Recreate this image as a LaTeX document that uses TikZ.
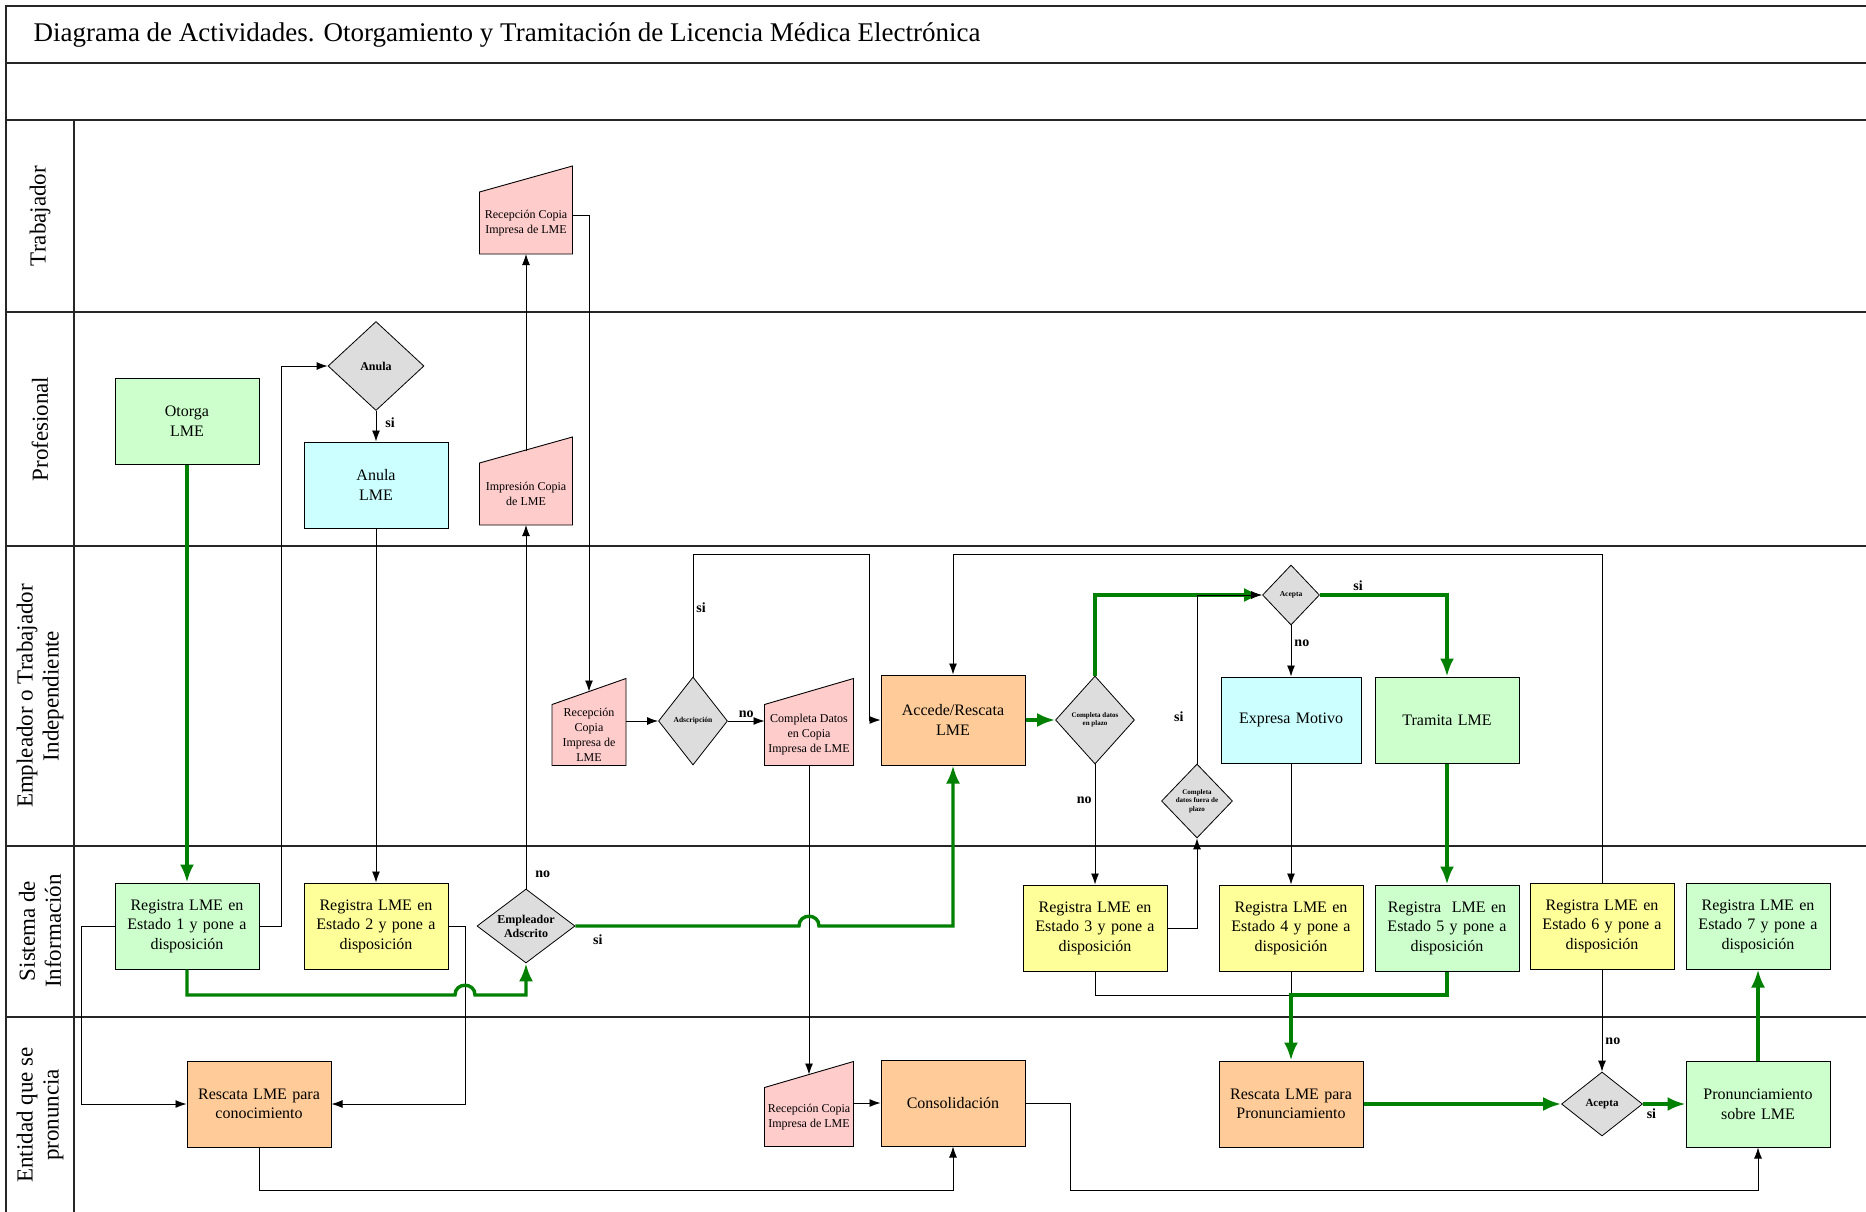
\documentclass[tikz,border=0pt]{standalone}
\usepackage{fontspec}
\setmainfont{Liberation Serif}
\usepackage{xcolor}
\usepackage{tikz}
\usetikzlibrary{shapes.geometric, arrows.meta, positioning, calc}

\definecolor{verde}{HTML}{CCFFCC}
\definecolor{amarillo}{HTML}{FFFF99}
\definecolor{celeste}{HTML}{CCFFFF}
\definecolor{naranjo}{HTML}{FFCC99}
\definecolor{rosado}{HTML}{FFCCCC}
\definecolor{gris}{HTML}{DDDDDD}
\definecolor{flujo}{HTML}{008000}

\tikzstyle{act} = [draw, rectangle, line width=1pt, minimum width=144pt, minimum height=86pt, text width=132pt, align=center, font=\fontsize{16}{19.6}\selectfont]
\tikzstyle{actV} = [act, fill=verde]
\tikzstyle{actA} = [act, fill=amarillo]
\tikzstyle{actC} = [act, fill=celeste]
\tikzstyle{actN} = [act, fill=naranjo]
\tikzstyle{decision} = [draw, diamond, fill=gris, line width=0.8pt, inner sep=0pt, align=center, font=\bfseries\fontsize{12}{14}\selectfont]
\tikzstyle{doc} = [rectangle, inner xsep=2pt, inner ysep=1pt, outer sep=0pt, minimum height=62pt, align=center, font=\fontsize{12}{15}\selectfont,
  append after command={\pgfextra{
    \filldraw[fill=rosado, line width=0.9pt] (\tikzlastnode.south west) -- (\tikzlastnode.south east) -- ([yshift=26pt]\tikzlastnode.north east) -- (\tikzlastnode.north west) -- cycle;}}]
\tikzstyle{arrow} = [draw, -{Latex[length=11pt,width=8pt]}, line width=0.9pt]
\tikzstyle{garrow} = [draw=flujo, -{Latex[length=18pt,width=14pt]}, line width=3.4pt]
\tikzstyle{pista} = [draw=black!85, line width=1.6pt]
\tikzstyle{carril} = [rotate=90, align=center, font=\fontsize{23}{26}\selectfont]
\tikzstyle{etq} = [font=\bfseries\fontsize{14}{16}\selectfont, inner sep=3pt]

\begin{document}
\begin{tikzpicture}[x=1pt, y=-1pt]
    \useasboundingbox (0,0) rectangle (1866,1212);
    \fill [white] (0,0) rectangle (1866,1212);

    % carriles
    \draw [pista] (6,1212) -- (6,6) -- (1866,6)
        (6,63) -- (1866,63) (6,120) -- (1866,120)
        (6,312) -- (1866,312) (6,546) -- (1866,546)
        (6,846) -- (1866,846) (6,1017) -- (1866,1017)
        (74,120) -- (74,1212);

    \node (titulo) [anchor=west, font=\fontsize{27}{32}\selectfont] at (30,35) {Diagrama de Actividades. Otorgamiento y Tramitación de Licencia Médica Electrónica};
    \node (cTrab) [carril] at (40,216) {Trabajador};
    \node (cProf) [carril] at (40,429) {Profesional};
    \node (cEmpl) [carril] at (40,696) {Empleador o Trabajador\\Independiente};
    \node (cSist) [carril] at (40,931) {Sistema de\\Información};
    \node (cEnt) [carril] at (40,1115) {Entidad que se\\pronuncia};

    % Profesional y Trabajador
    \node (otorga) [actV] at (187,421) {Otorga\\LME};
    \node (anula) [decision, minimum width=96pt, minimum height=89pt] at (376,366) {Anula};
    \node (anulaLME) [actC] at (376,485) {Anula\\LME};
    \node (recT) [doc, minimum width=93pt] at (526,223) {Recepción Copia\\Impresa de LME};
    \node (impr) [doc, minimum width=93pt] at (526,494) {Impresión Copia\\de LME};

    % Empleador
    \node (recE) [doc, minimum width=74pt, minimum height=61pt] at (589,735) {Recepción\\Copia\\Impresa de\\LME};
    \node (adscr) [decision, minimum width=69pt, minimum height=88pt, aspect=0.78, font=\bfseries\fontsize{7.5}{9}\selectfont] at (693,721) {Adscripción};
    \node (compD) [doc, minimum width=89pt, minimum height=61pt] at (809,735) {Completa Datos\\en Copia\\Impresa de LME};
    \node (accede) [actN, minimum height=90pt] at (953,720) {Accede/Rescata\\LME};
    \node (plazo) [decision, minimum width=79pt, minimum height=88pt, aspect=0.9, font=\bfseries\fontsize{7}{8.5}\selectfont] at (1095,720) {Completa datos\\en plazo};
    \node (aceptaT) [decision, minimum width=57pt, minimum height=60pt, aspect=0.95, font=\bfseries\fontsize{7.5}{9}\selectfont] at (1291,595) {Acepta};
    \node (expresa) [actC, minimum width=140pt] at (1291,720) {Expresa Motivo};
    \node (tramita) [actV] at (1447,720) {Tramita LME};
    \node (fuera) [decision, minimum width=71pt, minimum height=74pt, font=\bfseries\fontsize{7}{8.5}\selectfont] at (1197,801) {Completa\\datos fuera de\\plazo};

    % Sistema de Informacion
    \node (reg1) [actV] at (187,926) {Registra LME en\\Estado 1 y pone a\\disposición};
    \node (reg2) [actA] at (376,926) {Registra LME en\\Estado 2 y pone a\\disposición};
    \node (adscrito) [decision, minimum width=98pt, minimum height=74pt, aspect=1.32] at (526,926) {Empleador\\Adscrito};
    \node (reg3) [actA] at (1095,928) {Registra LME en\\Estado 3 y pone a\\disposición};
    \node (reg4) [actA] at (1291,928) {Registra LME en\\Estado 4 y pone a\\disposición};
    \node (reg5) [actV] at (1447,928) {Registra\ \ LME en\\Estado 5 y pone a\\disposición};
    \node (reg6) [actA] at (1602,926) {Registra LME en\\Estado 6 y pone a\\disposición};
    \node (reg7) [actV] at (1758,926) {Registra LME en\\Estado 7 y pone a\\disposición};
    \coordinate (union) at (1291,995);

    % Entidad que se pronuncia
    \node (rescCon) [actN] at (259,1104) {Rescata LME para\\conocimiento};
    \node (recEnt) [doc, minimum width=89pt, minimum height=59pt] at (809,1117) {Recepción Copia\\Impresa de LME};
    \node (consol) [actN] at (953,1103) {Consolidación};
    \node (rescPro) [actN] at (1291,1104) {Rescata LME para\\Pronunciamiento};
    \node (aceptaB) [decision, minimum width=81pt, minimum height=64pt, aspect=1.27, font=\bfseries\fontsize{11}{13}\selectfont] at (1602,1104) {Acepta};
    \node (pronun) [actV] at (1758,1104) {Pronunciamiento\\sobre LME};

    % conectores
    \draw [arrow] (reg1.east) -- ++(22,0) |- (anula.west);
    \draw [arrow] (anula) -- node [etq, right, pos=0.4, xshift=6pt] {si} (anulaLME);
    \draw [arrow] (anulaLME) -- (reg2);
    \draw [arrow] (reg1.west) -- ++(-33,0) |- (rescCon.west);
    \draw [arrow] (reg2.east) -- ++(17,0) |- (rescCon.east);
    \draw [arrow] (adscrito.north) -- node [etq, right, pos=0.04, xshift=6pt] {no} (impr.south);
    \draw [arrow] ([yshift=12pt]impr.north) -- (recT.south);
    \draw [arrow] ([yshift=8pt]recT.east) -| ([yshift=13pt]recE.north);
    \draw [arrow] (recE.east |- adscr.west) -- (adscr.west);
    \draw [arrow] (adscr.east) -- node [etq, above] {no} (adscr.east -| compD.west);
    \draw [arrow] (adscr.north) |- node [etq, right, pos=0.28] {si} (869,554) |- (accede.west);
    \draw [arrow] (compD.south) -- ([yshift=13pt]recEnt.north);
    \draw [arrow] (recEnt.east |- consol.west) -- (consol.west);
    \draw [arrow] (rescCon.south) -- ++(0,43) -| (consol.south);
    \draw [arrow] (consol.east) -- ++(45,0) -- ++(0,87) -| (pronun.south);
    \draw [arrow] (plazo) -- node [etq, left, pos=0.3] {no} (reg3);
    \draw [arrow] (reg3.east) -| (fuera.south);
    \draw [arrow] (aceptaT) -- node [etq, right, pos=0.35] {no} (expresa);
    \draw [arrow] (expresa) -- (reg4);
    \draw [arrow, -] (reg3.south) |- (union);
    \draw [arrow, -] (reg4.south) -- (union);
    \draw [arrow] (reg6.north) -- ++(0,-328) -| (accede.north);
    \draw [arrow] (reg6) -- node [etq, right, pos=0.7] {no} (aceptaB);

    % flujo principal
    \draw [garrow] (otorga) -- (reg1);
    \draw [garrow] (reg1.south) |- (455,995) .. controls (455,982) and (475,982) .. (475,995) -| (adscrito.south);
    \draw [garrow] (adscrito.east) -- node [etq, below, pos=0.1, yshift=-4pt] {si} (799,926) .. controls (799,913) and (819,913) .. (819,926) -| (accede.south);
    \draw [garrow] (accede) -- (plazo);
    \draw [garrow] (plazo.north) |- (aceptaT.west);
    \draw [garrow] (aceptaT.east) -| node [etq, above, pos=0.15] {si} (tramita.north);
    \draw [garrow] (tramita) -- (reg5);
    \draw [garrow] (reg5.south) |- (union) -- (rescPro.north);
    \draw [garrow] (rescPro) -- (aceptaB);
    \draw [garrow] (aceptaB) -- node [etq, below, pos=0.2] {si} (pronun);
    \draw [garrow] (pronun) -- (reg7);

    \draw [arrow] (fuera.north) |- node [etq, left, pos=0.14, xshift=-10pt] {si} (aceptaT.west);
\end{tikzpicture}
\end{document}
